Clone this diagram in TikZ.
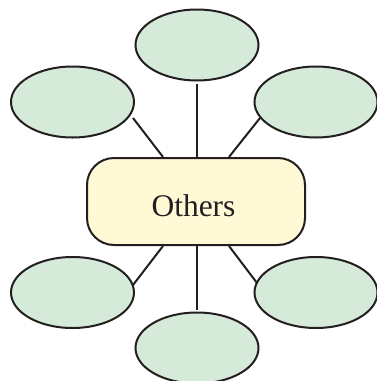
\documentclass[tikz,border=0pt]{standalone}
\usepackage{fontspec}
\setmainfont{Liberation Serif}
\usetikzlibrary{shapes.geometric}
\definecolor{leaf}{HTML}{D5EAD8}
\definecolor{hub}{HTML}{FFF9D6}
\definecolor{ink}{HTML}{231F20}
\tikzset{
  bubble/.style={ellipse, draw=ink, fill=leaf, line width=2pt, inner sep=0pt,
    minimum width=123pt, minimum height=71pt},
  hubbox/.style={rectangle, rounded corners=27pt, draw=ink, fill=hub, line width=2pt,
    minimum width=218pt, minimum height=87pt, inner sep=0pt,
    font=\fontsize{31.5}{36}\selectfont, text=ink},
  link/.style={draw=ink, line width=2pt}
}
\begin{document}
\begin{tikzpicture}[x=1pt,y=-1pt]
\useasboundingbox (0,0) rectangle (377,381);
\node[bubble] (top) at (197,45) {};
\node[bubble] (tl) at (72.5,102) {};
\node[bubble] (tr) at (316,102) {};
\node[bubble] (bl) at (72.5,292.5) {};
\node[bubble] (br) at (316,292.5) {};
\node[bubble] (bot) at (197,348) {};
\node[hubbox] (hub) at (196,201.5) {\hspace*{-5pt}\raisebox{-14.5pt}[0pt][0pt]{Others}};
\coordinate (etl) at (133,118);
\coordinate (etr) at (260,118);
\coordinate (ebl) at (133,285);
\coordinate (ebr) at (257,283);
\draw[link] ([xshift=1pt]hub.north) -- ([yshift=-2pt]top.south);
\draw[link] ([xshift=1pt]hub.south) -- ([yshift=2pt]bot.north);
\draw[link] ([xshift=-33pt]hub.north) -- (etl);
\draw[link] ([xshift=33pt]hub.north) -- (etr);
\draw[link] ([xshift=-33pt]hub.south) -- (ebl);
\draw[link] ([xshift=33pt]hub.south) -- (ebr);
\end{tikzpicture}
\end{document}
